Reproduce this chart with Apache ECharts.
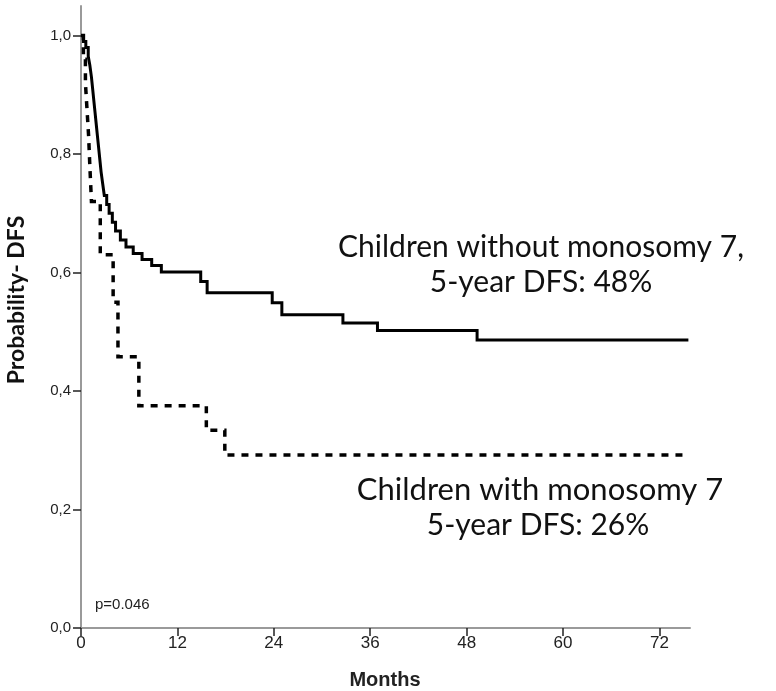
<!DOCTYPE html>
<html>
<head>
<meta charset="utf-8">
<script src="https://cdn.jsdelivr.net/npm/echarts@6/dist/echarts.min.js"></script>
<style>html,body{margin:0;padding:0;background:#fff;}#c{width:776px;height:691px;}</style>
</head>
<body>
<div id="c"></div>
<script>
// Kaplan-Meier curves (months, probability)
const noMonoTimes  = [0, 0.3, 0.6, 0.9, 1.1, 1.3, 1.45, 1.6, 1.75, 1.9, 2.05, 2.2, 2.35, 2.5, 2.7, 2.9, 3.2, 3.5, 3.9, 4.3, 4.9, 5.6, 6.5, 7.6, 8.8, 10.0, 14.9, 15.7, 23.8, 25.0, 32.6, 36.9, 49.3, 75.6];
const noMonoValues = [1.0, 0.99, 0.98, 0.965, 0.95, 0.93, 0.91, 0.89, 0.87, 0.85, 0.83, 0.81, 0.79, 0.77, 0.75, 0.73, 0.715, 0.70, 0.685, 0.67, 0.655, 0.643, 0.632, 0.622, 0.612, 0.601, 0.585, 0.566, 0.549, 0.529, 0.515, 0.502, 0.486, 0.486];
const monoTimes    = [0, 0.3, 0.55, 0.75, 0.95, 1.1, 1.3, 2.4, 4.0, 4.6, 7.2, 15.6, 17.9, 75.6];
const monoValues   = [1.0, 0.96, 0.92, 0.875, 0.83, 0.78, 0.72, 0.63, 0.55, 0.458, 0.375, 0.334, 0.292, 0.292];
const xTicks = [0, 12, 24, 36, 48, 60, 72];
const yTicks = [0, 0.2, 0.4, 0.6, 0.8, 1.0];
const labelNoMono = ['Children without monosomy 7,', '5-year DFS: 48%'];
const labelMono   = ['Children with monosomy 7', '5-year DFS: 26%'];
const pValueText = 'p=0.046';
const xTitle = 'Months';
const yTitle = 'Probability- DFS';

const pairs = (ts, vs) => ts.map((t, i) => [t, vs[i]]);
const chart = echarts.init(document.getElementById('c'), null, {renderer: 'canvas'});
const calibriLike = 'Lato, "Open Sans", sans-serif';
const narrow = '"Liberation Sans Narrow", "Liberation Sans", sans-serif';
chart.setOption({
  animation: false,
  backgroundColor: '#ffffff',
  grid: {left: 81, right: 86, top: 6, bottom: 63, containLabel: false, outerBoundsMode: 'none'},
  xAxis: {
    type: 'value', min: 0, max: 75.8,
    axisLine: {show: true, lineStyle: {color: '#9a9a9a', width: 2}},
    axisTick: {show: true, length: 8, customValues: xTicks, lineStyle: {color: '#222', width: 1.5}},
    axisLabel: {customValues: xTicks, fontFamily: narrow, fontSize: 17, color: '#222', margin: 7},
    splitLine: {show: false}
  },
  yAxis: {
    type: 'value', min: 0, max: 1.05,
    axisLine: {show: true, lineStyle: {color: '#9a9a9a', width: 2}},
    axisTick: {show: true, length: 8, customValues: yTicks, lineStyle: {color: '#222', width: 1.5}},
    axisLabel: {customValues: yTicks, fontFamily: narrow, fontSize: 15, color: '#222', margin: 10,
      formatter: v => v.toFixed(1).replace('.', ',')},
    splitLine: {show: false}
  },
  series: [
    {type: 'line', step: 'end', data: pairs(noMonoTimes, noMonoValues), showSymbol: false, symbol: 'none',
     lineStyle: {color: '#000', width: 3, cap: 'butt', join: 'miter'}, z: 3},
    {type: 'line', step: 'end', data: pairs(monoTimes, monoValues), showSymbol: false, symbol: 'none',
     lineStyle: {color: '#000', width: 3.5, type: [7, 7], cap: 'butt', join: 'miter'}, z: 2}
  ],
  graphic: [
    {type: 'text', style: {text: labelNoMono[0], fill: '#111', font: '30px ' + calibriLike, textAlign: 'center', textVerticalAlign: 'middle'}, x: 541, y: 247},
    {type: 'text', style: {text: labelNoMono[1], fill: '#111', font: '30px ' + calibriLike, textAlign: 'center', textVerticalAlign: 'middle'}, x: 541, y: 282},
    {type: 'text', style: {text: labelMono[0], fill: '#111', font: '31px ' + calibriLike, textAlign: 'center', textVerticalAlign: 'middle'}, x: 540, y: 490},
    {type: 'text', style: {text: labelMono[1], fill: '#111', font: '30px ' + calibriLike, textAlign: 'center', textVerticalAlign: 'middle'}, x: 538, y: 525},
    {type: 'text', style: {text: pValueText, fill: '#222', font: '15px ' + narrow, textAlign: 'left', textVerticalAlign: 'middle'}, x: 95, y: 605},
    {type: 'text', style: {text: xTitle, fill: '#222', font: 'bold 20px ' + narrow, textAlign: 'center', textVerticalAlign: 'middle'}, x: 385, y: 680},
    {type: 'text', rotation: Math.PI / 2, style: {text: yTitle, fill: '#111', font: 'bold 23px ' + calibriLike, textAlign: 'center', textVerticalAlign: 'middle'}, x: 17, y: 300}
  ]
});
</script>
</body>
</html>
